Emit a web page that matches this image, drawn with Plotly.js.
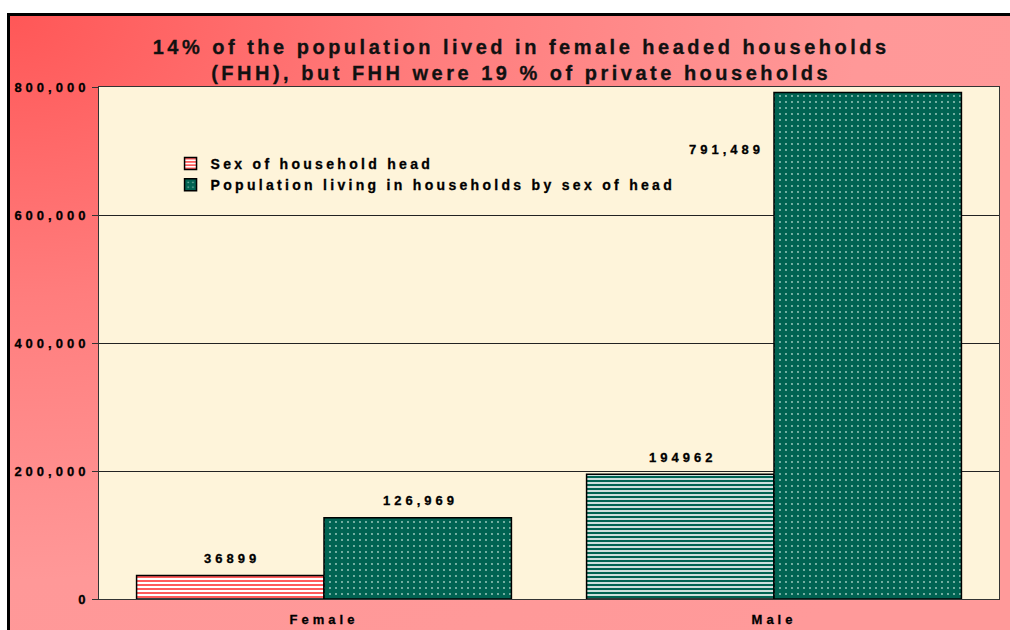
<!DOCTYPE html>
<html>
<head>
<meta charset="utf-8">
<script src="https://cdn.plot.ly/plotly-3.0.1.min.js"></script>
<style>
  html, body { margin: 0; padding: 0; background: #ffffff; width: 1010px; height: 630px; overflow: hidden; }
  #bg { position: absolute; left: 7px; top: 13px; width: 1010px; height: 620px;
        border-top: 3px solid #000; border-left: 3px solid #000;
        background: radial-gradient(ellipse 120% 130% at 0% 0%, #ff5757 0%, #ff7d7d 35%, #ff9898 70%, #ff9a9a 100%); }
  #chart { position: absolute; left: 0; top: 0; width: 1010px; height: 630px; }
  #chart text { letter-spacing: 4px; stroke: #000; stroke-width: 0.3px; }
  #chart .legend text { letter-spacing: 3.3px; }
  #chart .gtitle { letter-spacing: 3.5px; stroke: #111; stroke-width: 0.3px; }
</style>
</head>
<body>
<div id="bg"></div>
<div id="chart"></div>
<script>
const categories = ["Female", "Male"];
const seriesNames = ["Sex of household head", "Population living in households by sex of head"];
const householdHeads = [36899, 194962];
const populationInHouseholds = [126969, 791489];
const yTickValues = [0, 200000, 400000, 600000, 800000];
const yTickLabels = ["0", "200,000", "400,000", "600,000", "800,000"];

const RED = "#ff5a5a";
const GREEN = "#006352";
const labelFont = { family: "Liberation Sans, Arial, sans-serif", size: 13, color: "#000", weight: "bold" };

const traces = [
  {
    type: "bar", name: seriesNames[0], x: [categories[0]], y: [householdHeads[0]],
    offsetgroup: "heads", legendgroup: "heads",
    marker: {
      color: "#ffffff",
      line: { color: "#000", width: 1.5 },
      pattern: { shape: "-", size: 4, solidity: 0.5, fgcolor: RED, bgcolor: "#ffffff", fillmode: "replace" }
    },
    hoverinfo: "skip"
  },
  {
    type: "bar", name: seriesNames[0], x: [categories[1]], y: [householdHeads[1]],
    offsetgroup: "heads", legendgroup: "heads", showlegend: false,
    marker: {
      color: "#ffffff",
      line: { color: "#000", width: 1.5 },
      pattern: { shape: "-", size: 4, solidity: 0.6, fgcolor: GREEN, bgcolor: "#ffffff", fillmode: "replace" }
    },
    hoverinfo: "skip"
  },
  {
    type: "bar", name: seriesNames[1], x: categories, y: populationInHouseholds,
    offsetgroup: "pop", legendgroup: "pop",
    marker: {
      color: GREEN,
      line: { color: "#000", width: 1.5 },
      pattern: { shape: ".", size: 6, solidity: 0.07, fgcolor: "#a9d2c6", bgcolor: GREEN, fillmode: "replace" }
    },
    hoverinfo: "skip"
  }
];

const fmtPlain = v => String(v);
const fmtComma = v => v.toLocaleString("en-US");

const annotations = [];
categories.forEach((c, i) => {
  annotations.push({ x: c, y: householdHeads[i], xref: "x", yref: "y", text: fmtPlain(householdHeads[i]),
    showarrow: false, xshift: -92, yshift: 17, yanchor: "middle", font: labelFont });
  const tall = i === 1;
  annotations.push({ x: c, y: populationInHouseholds[i], xref: "x", yref: "y", text: fmtComma(populationInHouseholds[i]),
    showarrow: false, xshift: tall ? -48 : 96, yshift: tall ? -57 : 17, yanchor: "middle", font: labelFont });
});

const layout = {
  width: 1010, height: 630,
  paper_bgcolor: "rgba(0,0,0,0)",
  plot_bgcolor: "#fef4da",
  margin: { l: 99, r: 11, t: 87, b: 31, pad: 0 },
  title: {
    text: "14% of the population lived in female headed households<br>(FHH), but FHH were 19 % of private households",
    font: { family: "Liberation Sans, Arial, sans-serif", size: 20, color: "#111", weight: "bold" },
    x: 0.516, xanchor: "center", y: 0.914, yanchor: "top"
  },
  barmode: "group",
  bargap: 0.167,
  bargroupgap: 0,
  showlegend: true,
  legend: {
    x: 0.0795, y: 0.881, xanchor: "left", yanchor: "top",
    bgcolor: "rgba(0,0,0,0)", borderwidth: 0,
    font: { family: "Liberation Sans, Arial, sans-serif", size: 14, color: "#000", weight: "bold" },
    tracegroupgap: 0, itemwidth: 30, traceorder: "normal"
  },
  xaxis: {
    type: "category",
    showline: true, linecolor: "#333", linewidth: 1, mirror: true,
    ticks: "", showgrid: false,
    ticklabelstandoff: 8,
    tickfont: labelFont
  },
  yaxis: {
    range: [0, 800000],
    tickvals: yTickValues, ticktext: yTickLabels,
    ticks: "outside", ticklen: 6, tickcolor: "#333",
    showline: true, linecolor: "#333", linewidth: 1, mirror: true,
    showgrid: true, gridcolor: "#222", gridwidth: 1,
    zeroline: false,
    tickfont: labelFont
  },
  annotations: annotations
};

Plotly.newPlot("chart", traces, layout, { displayModeBar: false, staticPlot: true }).then(gd => {
  gd.querySelectorAll(".legend .scrollbox, .legend").forEach(el => el.removeAttribute("clip-path"));
});
</script>
</body>
</html>
